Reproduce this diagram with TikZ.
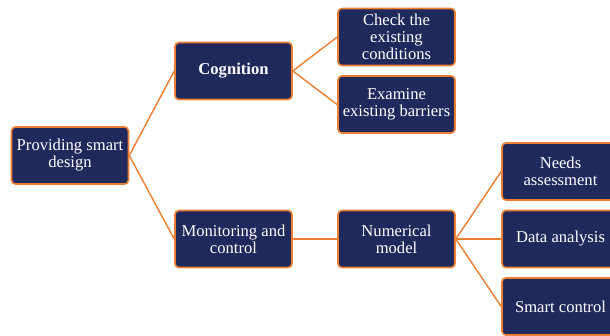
\documentclass[tikz,border=0pt]{standalone}
\usepackage{fontspec}
\setmainfont{Liberation Serif}
\definecolor{navy}{RGB}{31,41,91}
\definecolor{borange}{RGB}{237,125,49}
\begin{document}
\begin{tikzpicture}[x=1pt,y=-1pt,
  box/.style={draw=borange,line width=1.6pt,fill=navy,rounded corners=4pt,
    minimum width=117pt,minimum height=57pt,text=white,align=center,
    font=\fontsize{16.6}{17}\selectfont,inner sep=1pt},
  link/.style={draw=borange,line width=1.4pt}]
\useasboundingbox (0,0) rectangle (610,335);
\clip (0,0) rectangle (610,335);
\node[box] (psd) at (70,155.5) {Providing smart\\design};
\node[box,font=\fontsize{16.6}{17}\selectfont\bfseries] (cog) at (233.5,71) {Cognition};
\node[box] (chk) at (396.5,37) {Check the\\existing\\conditions};
\node[box] (exa) at (396.5,104.5) {Examine\\existing barriers};
\node[box] (mon) at (233.5,239) {Monitoring and\\control};
\node[box] (num) at (396.5,239) {Numerical\\model};
\node[box] (nee) at (560.5,171.5) {Needs\\assessment};
\node[box] (dat) at (560.5,239) {Data analysis};
\node[box] (sma) at (560.5,306.5) {Smart control};
\draw[link] (psd.east) -- (cog.west);
\draw[link] (psd.east) -- (mon.west);
\draw[link] (cog.east) -- (chk.west);
\draw[link] (cog.east) -- (exa.west);
\draw[link] (mon.east) -- (num.west);
\draw[link] (num.east) -- (nee.west);
\draw[link] (num.east) -- (dat.west);
\draw[link] (num.east) -- (sma.west);
\end{tikzpicture}
\end{document}
